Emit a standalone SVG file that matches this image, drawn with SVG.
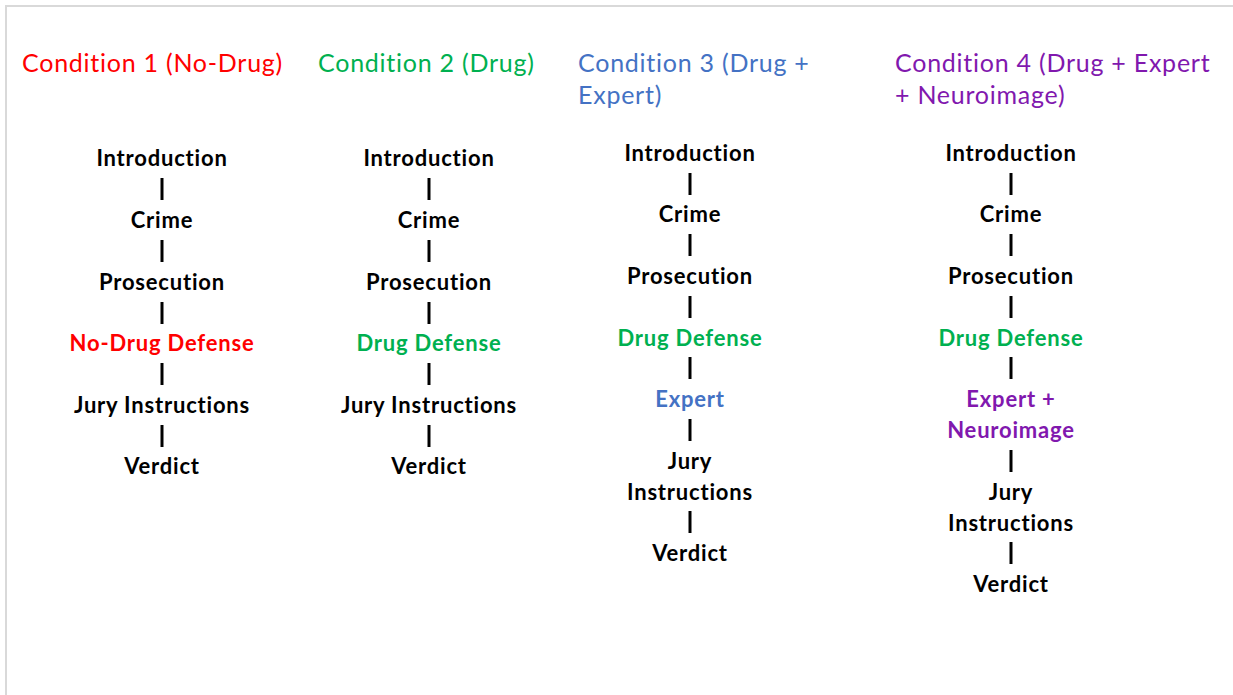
<svg xmlns="http://www.w3.org/2000/svg" width="1233" height="695" viewBox="0 0 1233 695">
<style>
.h{font-family:Lato,"Open Sans","Liberation Sans",sans-serif;font-size:25px;letter-spacing:0.75px}
.n{font-family:Lato,"Open Sans","Liberation Sans",sans-serif;font-size:22px;font-weight:bold;letter-spacing:0.8px;text-anchor:middle;fill:#000}
.red{fill:#FF0000}.grn{fill:#00B050}.blu{fill:#4472C4}.pur{fill:#8118AE}
.c line{stroke:#000;stroke-width:3}
</style>
<rect width="1233" height="695" fill="#fff"/>
<path d="M6,695 V6 H1233" fill="none" stroke="#d9d9d9" stroke-width="2"/>
<g id="headings">
<text class="h red" x="22" y="72">Condition 1 (No-Drug)</text>
<text class="h grn" x="318" y="72">Condition 2 (Drug)</text>
<text class="h blu" x="578" y="72">Condition 3 (Drug +</text>
<text class="h blu" x="578" y="104">Expert)</text>
<text class="h pur" x="895" y="72">Condition 4 (Drug + Expert</text>
<text class="h pur" x="895" y="104">+ Neuroimage)</text>
</g>
<g class="c" id="connectors">
<line x1="162" y1="178" x2="162" y2="200"/><line x1="162" y1="240" x2="162" y2="262"/><line x1="162" y1="302" x2="162" y2="324"/><line x1="162" y1="363" x2="162" y2="385"/><line x1="162" y1="425" x2="162" y2="447"/>
<line x1="429" y1="178" x2="429" y2="200"/><line x1="429" y1="240" x2="429" y2="262"/><line x1="429" y1="302" x2="429" y2="324"/><line x1="429" y1="363" x2="429" y2="385"/><line x1="429" y1="425" x2="429" y2="447"/>
<line x1="690" y1="173" x2="690" y2="195"/><line x1="690" y1="234" x2="690" y2="256"/><line x1="690" y1="296" x2="690" y2="318"/><line x1="690" y1="357" x2="690" y2="379"/><line x1="690" y1="419" x2="690" y2="441"/><line x1="690" y1="511" x2="690" y2="533"/>
<line x1="1011" y1="173" x2="1011" y2="195"/><line x1="1011" y1="234" x2="1011" y2="256"/><line x1="1011" y1="296" x2="1011" y2="318"/><line x1="1011" y1="357" x2="1011" y2="379"/><line x1="1011" y1="450" x2="1011" y2="472"/><line x1="1011" y1="542" x2="1011" y2="564"/>
</g>
<g id="col1">
<text id="c1-intro" class="n" x="162" y="166">Introduction</text>
<text id="c1-crime" class="n" x="162" y="228">Crime</text>
<text id="c1-pros" class="n" x="162" y="290">Prosecution</text>
<text id="c1-def" class="n red" x="162" y="351">No-Drug Defense</text>
<text id="c1-jury" class="n" x="162" y="413">Jury Instructions</text>
<text id="c1-verdict" class="n" x="162" y="474">Verdict</text>
</g>
<g id="col2">
<text id="c2-intro" class="n" x="429" y="166">Introduction</text>
<text id="c2-crime" class="n" x="429" y="228">Crime</text>
<text id="c2-pros" class="n" x="429" y="290">Prosecution</text>
<text id="c2-def" class="n grn" x="429" y="351">Drug Defense</text>
<text id="c2-jury" class="n" x="429" y="413">Jury Instructions</text>
<text id="c2-verdict" class="n" x="429" y="474">Verdict</text>
</g>
<g id="col3">
<text id="c3-intro" class="n" x="690" y="161">Introduction</text>
<text id="c3-crime" class="n" x="690" y="222">Crime</text>
<text id="c3-pros" class="n" x="690" y="284">Prosecution</text>
<text id="c3-def" class="n grn" x="690" y="346">Drug Defense</text>
<text id="c3-expert" class="n blu" x="690" y="407">Expert</text>
<text id="c3-jury" class="n" x="690" y="469">Jury<tspan x="690" dy="31">Instructions</tspan></text>
<text id="c3-verdict" class="n" x="690" y="561">Verdict</text>
</g>
<g id="col4">
<text id="c4-intro" class="n" x="1011" y="161">Introduction</text>
<text id="c4-crime" class="n" x="1011" y="222">Crime</text>
<text id="c4-pros" class="n" x="1011" y="284">Prosecution</text>
<text id="c4-def" class="n grn" x="1011" y="346">Drug Defense</text>
<text id="c4-expert" class="n pur" x="1011" y="407">Expert +<tspan x="1011" dy="31">Neuroimage</tspan></text>
<text id="c4-jury" class="n" x="1011" y="500">Jury<tspan x="1011" dy="31">Instructions</tspan></text>
<text id="c4-verdict" class="n" x="1011" y="592">Verdict</text>
</g>
</svg>
